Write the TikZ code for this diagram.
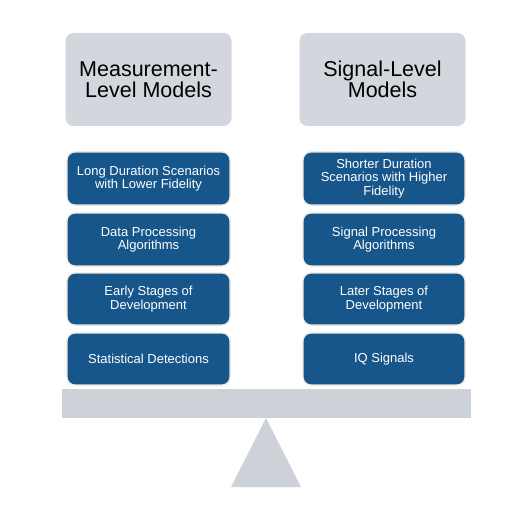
\documentclass[tikz,border=0pt]{standalone}
\usepackage{fontspec}
\setmainfont{Liberation Sans}
\definecolor{hdrgray}{HTML}{D3D6DC}
\definecolor{beamgray}{HTML}{CDD2D9}
\definecolor{boxblue}{HTML}{17568A}
\definecolor{boxrim}{HTML}{ECE9DF}
\begin{document}
\begin{tikzpicture}[x=1pt,y=-1pt,
  hdr/.style={fill=hdrgray,draw=none,rounded corners=8pt,align=center,
    font=\fontsize{21.5}{21.5}\selectfont,text=black},
  blk/.style={fill=boxblue,draw=boxrim,line width=1.2pt,rounded corners=8pt,align=center,
    font=\fontsize{13}{13.4}\selectfont,text=white}]
\useasboundingbox (0,0) rectangle (510,513);
% headers
\node[hdr,minimum width=166pt,minimum height=93pt] (hl) at (148.5,79.5) {Measurement-\\Level Models};
\node[hdr,minimum width=166pt,minimum height=93pt] (hr) at (382.5,79.5) {Signal-Level\\Models};
% left boxes
\node[blk,minimum width=163pt,minimum height=53pt] (l1) at (148.5,178.5) {Long Duration Scenarios\\with Lower Fidelity};
\node[blk,minimum width=163pt,minimum height=53pt] (l2) at (148.5,239.5) {Data Processing\\Algorithms};
\node[blk,minimum width=163pt,minimum height=52pt] (l3) at (148.5,299) {Early Stages of\\Development};
\node[blk,minimum width=163pt,minimum height=52pt] (l4) at (148.5,359) {Statistical Detections};
% right boxes
\node[blk,minimum width=162pt,minimum height=53pt] (r1) at (384,178.5) {Shorter Duration\\Scenarios with Higher\\Fidelity};
\node[blk,minimum width=162pt,minimum height=53pt] (r2) at (384,239.5) {Signal Processing\\Algorithms};
\node[blk,minimum width=162pt,minimum height=52pt] (r3) at (384,299) {Later Stages of\\Development};
\node[blk,minimum width=162pt,minimum height=52pt] (r4) at (384,359) {IQ Signals};
% beam and fulcrum
\fill[beamgray] (62,389) rectangle (471,418);
\fill[beamgray] (266,418) -- (301,487) -- (231,487) -- cycle;
\end{tikzpicture}
\end{document}
